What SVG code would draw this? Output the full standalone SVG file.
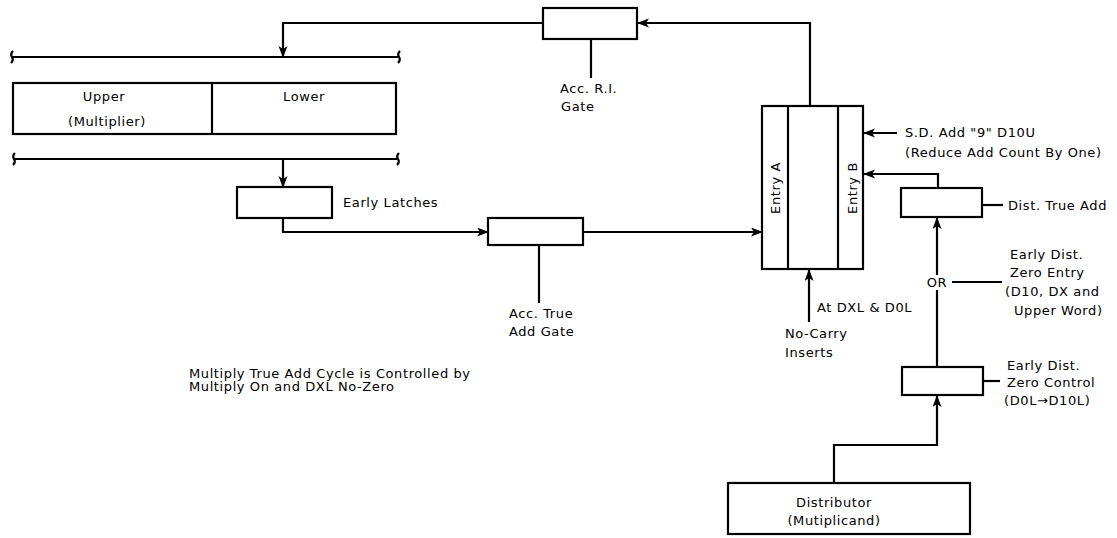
<svg xmlns="http://www.w3.org/2000/svg" width="1117" height="538" viewBox="0 0 1117 538">
<style>
  .box{fill:#fff;stroke:#000;stroke-width:2.2}
  .ln{fill:none;stroke:#000;stroke-width:2.2}
  .arr{fill:none;stroke:#000;stroke-width:2.2;marker-end:url(#ah)}
  text{font-family:"DejaVu Sans","Liberation Sans",sans-serif;font-size:13px;fill:#000;letter-spacing:0.6px}
  .m{text-anchor:middle}
</style>
<defs>
  <marker id="ah" markerUnits="userSpaceOnUse" markerWidth="12" markerHeight="10" refX="11" refY="4.5" orient="auto">
    <path d="M0,0 L12,4.5 L0,9 L3,4.5 z" fill="#000"/>
  </marker>
</defs>
<rect width="1117" height="538" fill="#fff"/>

<g id="connectors">
  <path class="arr" d="M810,106 V23 H638"/>
  <path class="arr" d="M543,23 H283 V57"/>
  <path class="arr" d="M283,159 V187"/>
  <path class="arr" d="M283,218 V232 H488"/>
  <path class="arr" d="M583,232 H762"/>
  <path class="ln" d="M591,39 V78"/>
  <path class="ln" d="M539,245 V303"/>
  <path class="arr" d="M809,322 V270"/>
  <path class="arr" d="M897,133 H864"/>
  <path class="arr" d="M938,188 V174 H864"/>
  <path class="arr" d="M937,275 V218"/>
  <path class="ln" d="M937,367 V290"/>
  <path class="ln" d="M952,282 H1002"/>
  <path class="ln" d="M982,205 H1003"/>
  <path class="ln" d="M983,381 H1000"/>
  <path class="arr" d="M834,483 V445 H937 V396"/>
</g>

<g id="bus-top">
  <path class="ln" d="M11,57 H398"/>
  <path class="ln" stroke-width="1.6" d="M13,51 Q10,54 12,57 Q14,60 11,63"/>
  <path class="ln" stroke-width="1.6" d="M400,51 Q397,54 399,57 Q401,60 398,63"/>
</g>

<g id="register">
  <rect class="box" x="13" y="83" width="383" height="51"/>
  <path class="ln" d="M212,83 V134"/>
  <text class="m" x="104" y="101">Upper</text>
  <text class="m" x="107" y="126">(Multiplier)</text>
  <text class="m" x="304" y="101">Lower</text>
</g>

<g id="bus-bottom">
  <path class="ln" d="M13,159 H397"/>
  <path class="ln" stroke-width="1.6" d="M15,153 Q12,156 14,159 Q16,162 13,165"/>
  <path class="ln" stroke-width="1.6" d="M399,153 Q396,156 398,159 Q400,162 397,165"/>
</g>

<g id="early-latches">
  <rect class="box" x="237" y="187" width="95" height="31"/>
  <text x="343" y="207">Early Latches</text>
</g>

<g id="acc-ri-gate">
  <rect class="box" x="543" y="8" width="94" height="31"/>
  <text x="560" y="93">Acc. R.I.</text>
  <text x="561" y="111">Gate</text>
</g>

<g id="acc-true-add-gate">
  <rect class="box" x="488" y="218" width="95" height="27"/>
  <text x="509" y="318">Acc. True</text>
  <text x="509" y="336">Add Gate</text>
</g>

<g id="accumulator">
  <rect class="box" x="762" y="106" width="101" height="163"/>
  <path class="ln" d="M788,106 V269 M838,106 V269"/>
  <text class="m" transform="translate(779.5,188) rotate(-90)">Entry A</text>
  <text class="m" transform="translate(856.5,188) rotate(-90)">Entry B</text>
  <text x="817" y="312">At DXL &amp; D0L</text>
  <text x="785" y="338">No-Carry</text>
  <text x="785" y="357">Inserts</text>
</g>

<g id="sd-add">
  <text x="905" y="137">S.D. Add "9" D10U</text>
  <text x="905" y="157">(Reduce Add Count By One)</text>
</g>

<g id="dist-true-add">
  <rect class="box" x="901" y="188" width="81" height="29"/>
  <text x="1008" y="210">Dist. True Add</text>
</g>

<g id="or">
  <text class="m" x="937" y="287">OR</text>
  <text x="1010" y="259">Early Dist.</text>
  <text x="1010" y="277">Zero Entry</text>
  <text x="1005" y="296">(D10, DX and</text>
  <text x="1014" y="315">Upper Word)</text>
</g>

<g id="zero-control">
  <rect class="box" x="902" y="367" width="81" height="28"/>
  <text x="1007" y="370">Early Dist.</text>
  <text x="1007" y="387">Zero Control</text>
  <text x="1004" y="405">(D0L→D10L)</text>
</g>

<g id="distributor">
  <rect class="box" x="728" y="483" width="242" height="51"/>
  <text class="m" x="834" y="507">Distributor</text>
  <text class="m" x="834" y="525">(Mutiplicand)</text>
</g>

<g id="note">
  <text x="189" y="378">Multiply True Add Cycle is Controlled by</text>
  <text x="189" y="391">Multiply On and DXL No-Zero</text>
</g>
</svg>
